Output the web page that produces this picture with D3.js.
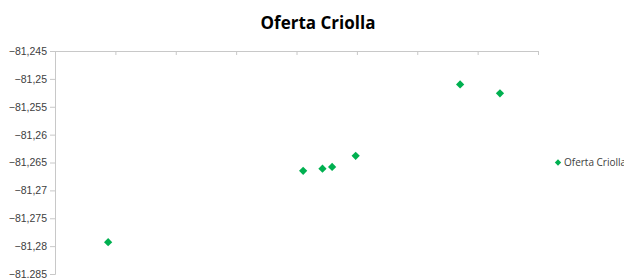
<!DOCTYPE html>
<html>
<head>
<meta charset="utf-8">
<script src="https://cdn.jsdelivr.net/npm/d3@7"></script>
<style>
  body { margin: 0; background: #fff; }
  #chart { width: 624px; height: 278px; overflow: hidden; }
</style>
</head>
<body>
<div id="chart"></div>
<script>
// Data
const seriesName = 'Oferta Criolla';
const xValues = [23.0488, 23.0811, 23.0843, 23.0859, 23.0898, 23.1071, 23.1137];
const yValues = [-81.2793, -81.2665, -81.2661, -81.2658, -81.2638, -81.2510, -81.2526];
const xTicks = [23.04, 23.05, 23.06, 23.07, 23.08, 23.09, 23.10, 23.11, 23.12];
const yTicks = [-81.245, -81.25, -81.255, -81.26, -81.265, -81.27, -81.275, -81.28, -81.285];

const width = 624, height = 278;
const margin = { top: 51, left: 55, right: 86, bottom: 4 };

const svg = d3.select('#chart').append('svg')
    .attr('width', width)
    .attr('height', height)
    .style('font-family', '"Open Sans", sans-serif');

const x = d3.scaleLinear()
    .domain([xTicks[0], xTicks[xTicks.length - 1]])
    .range([margin.left, width - margin.right]);

const y = d3.scaleLinear()
    .domain([-81.245, -81.285])
    .range([margin.top, height - margin.bottom]);

const fmt = v => d3.format('')(+v.toFixed(3)).replace('.', ',');

// Y axis
const yAxis = svg.append('g')
    .attr('transform', `translate(${margin.left},0)`)
    .call(d3.axisLeft(y).tickValues(yTicks).tickSize(5).tickPadding(3).tickFormat(fmt));
yAxis.select('.domain').attr('stroke', '#c8c8c8');
yAxis.selectAll('.tick line').attr('stroke', '#c8c8c8');
yAxis.selectAll('.tick text')
    .attr('fill', '#404040')
    .style('font-size', '10.5px');

// X axis crosses at the top (max value), no labels visible
const xAxis = svg.append('g')
    .attr('transform', `translate(0,${margin.top})`)
    .call(d3.axisBottom(x).tickValues(xTicks).tickSize(4).tickSizeOuter(0).tickFormat(''));
xAxis.select('.domain').attr('stroke', '#c8c8c8');
xAxis.selectAll('.tick line').attr('stroke', '#c8c8c8');

// Title
svg.append('text')
    .attr('x', 318)
    .attr('y', 29)
    .attr('text-anchor', 'middle')
    .style('font-size', '17px')
    .style('font-weight', 'bold')
    .attr('fill', '#000')
    .text(seriesName);

// Points
const diamond = d3.symbol().type(d3.symbolSquare).size(34);
svg.append('g')
    .selectAll('path')
    .data(xValues.map((v, i) => ({ x: v, y: yValues[i] })))
    .enter()
    .append('path')
    .attr('d', diamond)
    .attr('transform', d => `translate(${x(d.x)},${y(d.y)}) rotate(45)`)
    .attr('fill', '#00b050');

// Legend
const legend = svg.append('g').attr('transform', 'translate(558,162.5)');
legend.append('path')
    .attr('d', d3.symbol().type(d3.symbolSquare).size(20))
    .attr('transform', 'rotate(45)')
    .attr('fill', '#00b050');
legend.append('text')
    .attr('x', 6)
    .attr('y', 3.5)
    .style('font-size', '10px')
    .attr('fill', '#404040')
    .text(seriesName);
</script>
</body>
</html>
